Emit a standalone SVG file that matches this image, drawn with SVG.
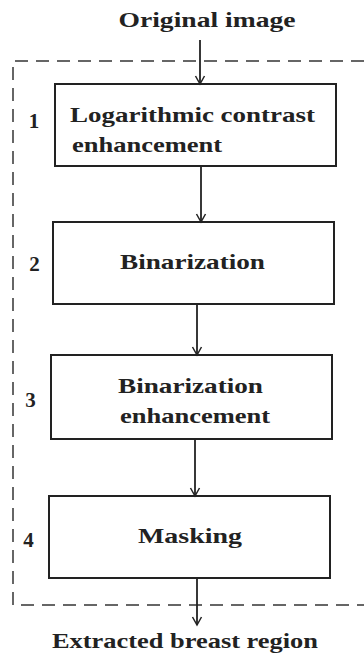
<svg xmlns="http://www.w3.org/2000/svg" width="364" height="658" viewBox="0 0 364 658">
<style>
.t{font-family:"Liberation Serif","DejaVu Serif",serif;font-weight:bold;font-size:22px;fill:#222}
.n{font-family:"Liberation Serif","DejaVu Serif",serif;font-weight:bold;font-size:21px;fill:#222}
.box{fill:#fff;stroke:#222;stroke-width:2}
.c{stroke:#222;stroke-width:1.8;fill:none}
.dash{stroke:#666;stroke-width:2;fill:none;stroke-dasharray:13 8}
</style>
<defs>
<marker id="v" markerUnits="userSpaceOnUse" markerWidth="12" markerHeight="12" viewBox="0 0 12 12" refX="6" refY="10" orient="0">
<path d="M1.5,2 L6,10 L10.5,2" fill="none" stroke="#222" stroke-width="1.5"/>
</marker>
</defs>
<g id="frame">
<path class="dash" d="M364,61 L13,61 L13,605 L364,605"/>
</g>
<g id="labels">
<text class="t" x="207" y="27" text-anchor="middle" textLength="177" lengthAdjust="spacingAndGlyphs">Original image</text>
<text class="t" x="185" y="648" text-anchor="middle" textLength="266" lengthAdjust="spacingAndGlyphs">Extracted breast region</text>
<text class="n" x="34" y="128" text-anchor="middle">1</text>
<text class="n" x="34.5" y="271" text-anchor="middle">2</text>
<text class="n" x="30.5" y="407" text-anchor="middle">3</text>
<text class="n" x="28.5" y="547" text-anchor="middle">4</text>
</g>
<g id="node1">
<rect class="box" x="55" y="84" width="281" height="82"/>
<text class="t" x="70" y="122" textLength="245" lengthAdjust="spacingAndGlyphs">Logarithmic contrast</text>
<text class="t" x="72" y="152" textLength="150" lengthAdjust="spacingAndGlyphs">enhancement</text>
</g>
<g id="node2">
<rect class="box" x="53" y="222" width="281" height="82"/>
<text class="t" x="192.5" y="269" text-anchor="middle" textLength="145" lengthAdjust="spacingAndGlyphs">Binarization</text>
</g>
<g id="node3">
<rect class="box" x="51" y="355" width="281" height="84"/>
<text class="t" x="190.5" y="393" text-anchor="middle" textLength="145" lengthAdjust="spacingAndGlyphs">Binarization</text>
<text class="t" x="195" y="423" text-anchor="middle" textLength="150" lengthAdjust="spacingAndGlyphs">enhancement</text>
</g>
<g id="node4">
<rect class="box" x="49" y="496" width="281" height="82"/>
<text class="t" x="190" y="543" text-anchor="middle" textLength="104" lengthAdjust="spacingAndGlyphs">Masking</text>
</g>
<g id="connectors">
<line class="c" x1="200" y1="40" x2="200" y2="84" marker-end="url(#v)"/>
<line class="c" x1="201" y1="166" x2="201" y2="222" marker-end="url(#v)"/>
<line class="c" x1="197" y1="304" x2="197" y2="355" marker-end="url(#v)"/>
<line class="c" x1="195" y1="439" x2="195" y2="496" marker-end="url(#v)"/>
<line class="c" x1="197" y1="578" x2="197" y2="625" marker-end="url(#v)"/>
</g>
</svg>
